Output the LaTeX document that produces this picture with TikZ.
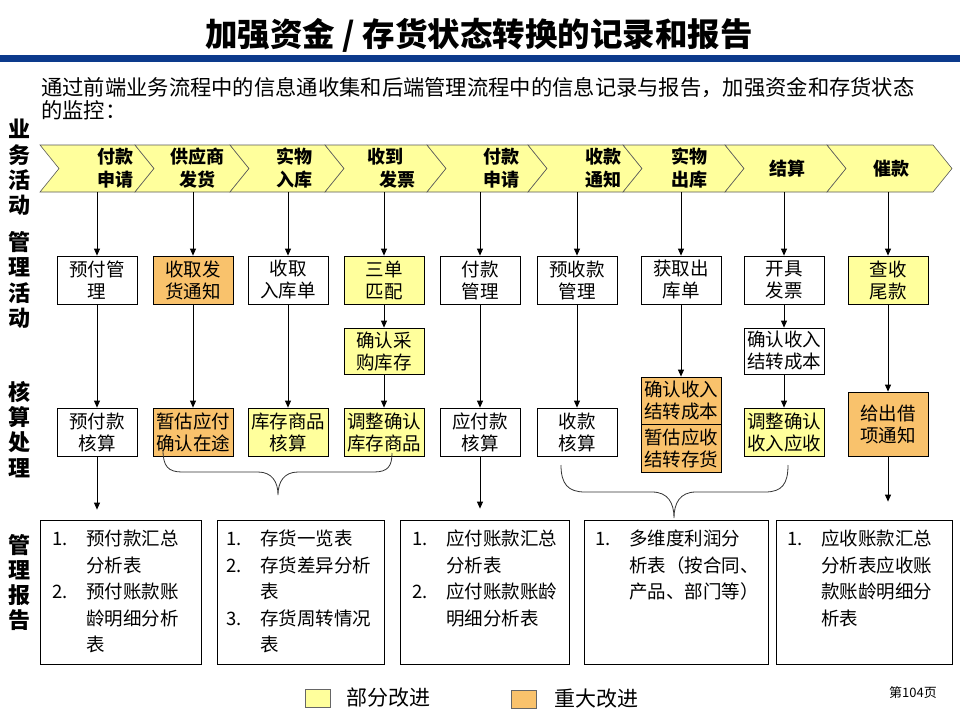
\documentclass[tikz,border=0pt]{standalone}
\usepackage{fontspec}
\setmainfont{Noto Sans CJK SC}
\usetikzlibrary{arrows.meta}
\definecolor{yel}{HTML}{FFFF9C}
\definecolor{org}{HTML}{F9C26C}
\definecolor{bandblue}{HTML}{0C3A8C}
\newcommand\rnum[1]{\makebox[34pt][l]{#1}}
\newcommand\rgap{\hspace*{34pt}}
\begin{document}
\begin{tikzpicture}[x=1pt,y=-1pt,
  box/.style={draw=black,line width=0.8pt,minimum width=80pt,minimum height=48pt,inner sep=0pt,align=center,font=\fontsize{18.5}{22}\selectfont},
  arr/.style={draw=black,line width=0.8pt,-{Triangle[length=7pt,width=6pt]}},
  chev/.style={fill=yel,draw=black!65,line width=0.6pt},
  chl/.style={font=\bfseries\fontsize{18}{23}\selectfont,align=center,inner sep=0pt},
  side/.style={font=\bfseries\fontsize{22}{25.3}\selectfont,align=center,inner sep=0pt},
  rep/.style={draw=black,line width=0.8pt,minimum height=144pt,inner sep=0pt},
  rept/.style={font=\fontsize{18.5}{26.5}\selectfont,align=left,anchor=north west,inner sep=0pt},
  brace/.style={draw=black!80,line width=0.8pt},
  legbox/.style={draw=black!60,line width=0.6pt,minimum width=25pt,minimum height=18pt,inner sep=0pt},
]
\useasboundingbox (0,0) rectangle (960,720);
\fill[white] (0,0) rectangle (960,720);

% title and band
\node[font=\bfseries\fontsize{32.5}{35}\selectfont,inner sep=0pt] (title) at (479,35) {加强资金 / 存货状态转换的记录和报告};
\fill[bandblue] (0,55) rectangle (960,62);

% intro
\node[anchor=west,align=left,font=\fontsize{21.3}{23}\selectfont,inner sep=0pt] (intro) at (41,98.5)
  {通过前端业务流程中的信息通收集和后端管理流程中的信息记录与报告，加强资金和存货状态\\的监控：};

% side labels
\node[side] (sideA) at (20,167.5) {业\\务\\活\\动};
\node[side] (sideB) at (20,280) {管\\理\\活\\动};
\node[side] (sideC) at (20,429.5) {核\\算\\处\\理};
\node[side] (sideD) at (20,582.5) {管\\理\\报\\告};

% chevrons
\filldraw[chev] (40,145) -- (135,145) -- (154,168.5) -- (135,192) -- (40,192) -- (59,168.5) -- cycle;
\filldraw[chev] (135,145) -- (230,145) -- (249,168.5) -- (230,192) -- (135,192) -- (154,168.5) -- cycle;
\filldraw[chev] (230,145) -- (325,145) -- (344,168.5) -- (325,192) -- (230,192) -- (249,168.5) -- cycle;
\filldraw[chev] (325,145) -- (427,145) -- (446,168.5) -- (427,192) -- (325,192) -- (344,168.5) -- cycle;
\filldraw[chev] (427,145) -- (528,145) -- (547,168.5) -- (528,192) -- (427,192) -- (446,168.5) -- cycle;
\filldraw[chev] (528,145) -- (623,145) -- (642,168.5) -- (623,192) -- (528,192) -- (547,168.5) -- cycle;
\filldraw[chev] (623,145) -- (725,145) -- (744,168.5) -- (725,192) -- (623,192) -- (642,168.5) -- cycle;
\filldraw[chev] (725,145) -- (827,145) -- (846,168.5) -- (827,192) -- (725,192) -- (744,168.5) -- cycle;
\filldraw[chev] (827,145) -- (933,145) -- (952,168.5) -- (933,192) -- (827,192) -- (846,168.5) -- cycle;

\node[chl] (ch1) at (115,168.5) {付款\\申请};
\node[chl] (ch2) at (197,168.5) {供应商\\发货};
\node[chl] (ch3) at (294,168.5) {实物\\入库};
\node[chl] (ch4) at (385,168.5) {收到\\\hspace*{24pt}发票};
\node[chl] (ch5) at (501,168.5) {付款\\申请};
\node[chl] (ch6) at (603,168.5) {收款\\通知};
\node[chl] (ch7) at (689,168.5) {实物\\出库};
\node[chl] (ch8) at (787,168.5) {结算};
\node[chl] (ch9) at (891,168.5) {催款};

\coordinate (t1) at (97,192);
\coordinate (t2) at (193,192);
\coordinate (t3) at (288,192);
\coordinate (t4) at (384,192);
\coordinate (t5) at (480,192);
\coordinate (t6) at (577,192);
\coordinate (t7) at (681,192);
\coordinate (t8) at (784,192);
\coordinate (t9) at (888,192);

% management activities
\node[box] (m1) at (97,280) {预付管\\理};
\node[box,fill=org] (m2) at (193,280) {收取发\\货通知};
\node[box] (m3) at (288,280) {收取\\入库单};
\node[box,fill=yel] (m4) at (384,280) {三单\\匹配};
\node[box] (m5) at (480,280) {付款\\管理};
\node[box] (m6) at (577,280) {预收款\\管理};
\node[box] (m7) at (681,280) {获取出\\库单};
\node[box] (m8) at (784,280) {开具\\发票};
\node[box,fill=yel] (m9) at (888,280) {查收\\尾款};

\node[box,fill=yel,minimum height=46pt] (n4) at (384,351) {确认采\\购库存};
\node[box,minimum height=46pt] (n8) at (784,351) {确认收入\\结转成本};

% accounting
\node[box] (a1) at (97,432) {预付款\\核算};
\node[box,fill=org] (a2) at (193,432) {暂估应付\\确认在途};
\node[box,fill=yel] (a3) at (288,432) {库存商品\\核算};
\node[box,fill=yel] (a4) at (384,432) {调整确认\\库存商品};
\node[box] (a5) at (480,432) {应付款\\核算};
\node[box] (a6) at (577,432) {收款\\核算};
\node[box,fill=org,minimum height=47pt] (a7t) at (681,400.5) {确认收入\\结转成本};
\node[box,fill=org,minimum height=48pt] (a7b) at (681,448) {暂估应收\\结转存货};
\node[box,fill=yel] (a8) at (784,432) {调整确认\\收入应收};
\node[box,fill=org,minimum height=64pt] (a9) at (888,424) {给出借\\项通知};

% arrows
\foreach \i in {1,...,9} { \draw[arr] (t\i) -- (m\i); }
\draw[arr] (m1) -- (a1);
\draw[arr] (m2) -- (a2);
\draw[arr] (m3) -- (a3);
\draw[arr] (m4) -- (n4);
\draw[arr] (n4) -- (a4);
\draw[arr] (m5) -- (a5);
\draw[arr] (m6) -- (a6);
\draw[arr] (m7) -- (a7t);
\draw[arr] (m8) -- (n8);
\draw[arr] (n8) -- (a8);
\draw[arr] (m9) -- (a9);

% reports
\node[rep,minimum width=161pt] (rA) at (120.5,592) {};
\node[rep,minimum width=167pt] (rB) at (300.5,592) {};
\node[rep,minimum width=169pt] (rC) at (484.5,592) {};
\node[rep,minimum width=184pt] (rD) at (676,592) {};
\node[rep,minimum width=176pt] (rE) at (864,592) {};

\draw[arr,shorten >=10pt] (a1) -- (a1 |- rA.north);
\draw[arr,shorten >=11pt] (a5) -- (a5 |- rC.north);
\draw[arr,shorten >=18pt] (a9) -- (a9 |- rE.north);

% braces
\draw[brace] (163,450) .. controls (163,466) and (168,472) .. (182,472) -- (258,472)
  .. controls (272,472) and (278,482) .. (278,495)
  .. controls (278,482) and (284,472) .. (298,472) -- (374,472)
  .. controls (388,472) and (392,466) .. (392,453);
\draw[brace] (561,465) .. controls (561,484) and (568,492) .. (585,492) -- (652,492)
  .. controls (668,492) and (674,503) .. (674,518)
  .. controls (674,503) and (680,492) .. (696,492) -- (765,492)
  .. controls (782,492) and (788,484) .. (788,465);

\node[rept] (tA) at (52,530) {\rnum{1.}预付款汇总\\\rgap 分析表\\\rnum{2.}预付账款账\\\rgap 龄明细分析\\\rgap 表};
\node[rept] (tB) at (226,530) {\rnum{1.}存货一览表\\\rnum{2.}存货差异分析\\\rgap 表\\\rnum{3.}存货周转情况\\\rgap 表};
\node[rept] (tC) at (412,530) {\rnum{1.}应付账款汇总\\\rgap 分析表\\\rnum{2.}应付账款账龄\\\rgap 明细分析表};
\node[rept] (tD) at (595,530) {\rnum{1.}多维度利润分\\\rgap 析表（按合同、\\\rgap 产品、部门等）};
\node[rept] (tE) at (787,530) {\rnum{1.}应收账款汇总\\\rgap 分析表应收账\\\rgap 款账龄明细分\\\rgap 析表};

% legend
\node[legbox,fill=yel] (lg1) at (317.5,698) {};
\node[anchor=west,font=\fontsize{21}{24}\selectfont,inner sep=0pt] (lt1) at (346,698) {部分改进};
\node[legbox,fill=org] (lg2) at (524,699.5) {};
\node[anchor=west,font=\fontsize{21}{24}\selectfont,inner sep=0pt] (lt2) at (554,699) {重大改进};
\node[anchor=west,font=\fontsize{13}{15}\selectfont,inner sep=0pt] (pg) at (889,693) {第104页};
\end{tikzpicture}
\end{document}
